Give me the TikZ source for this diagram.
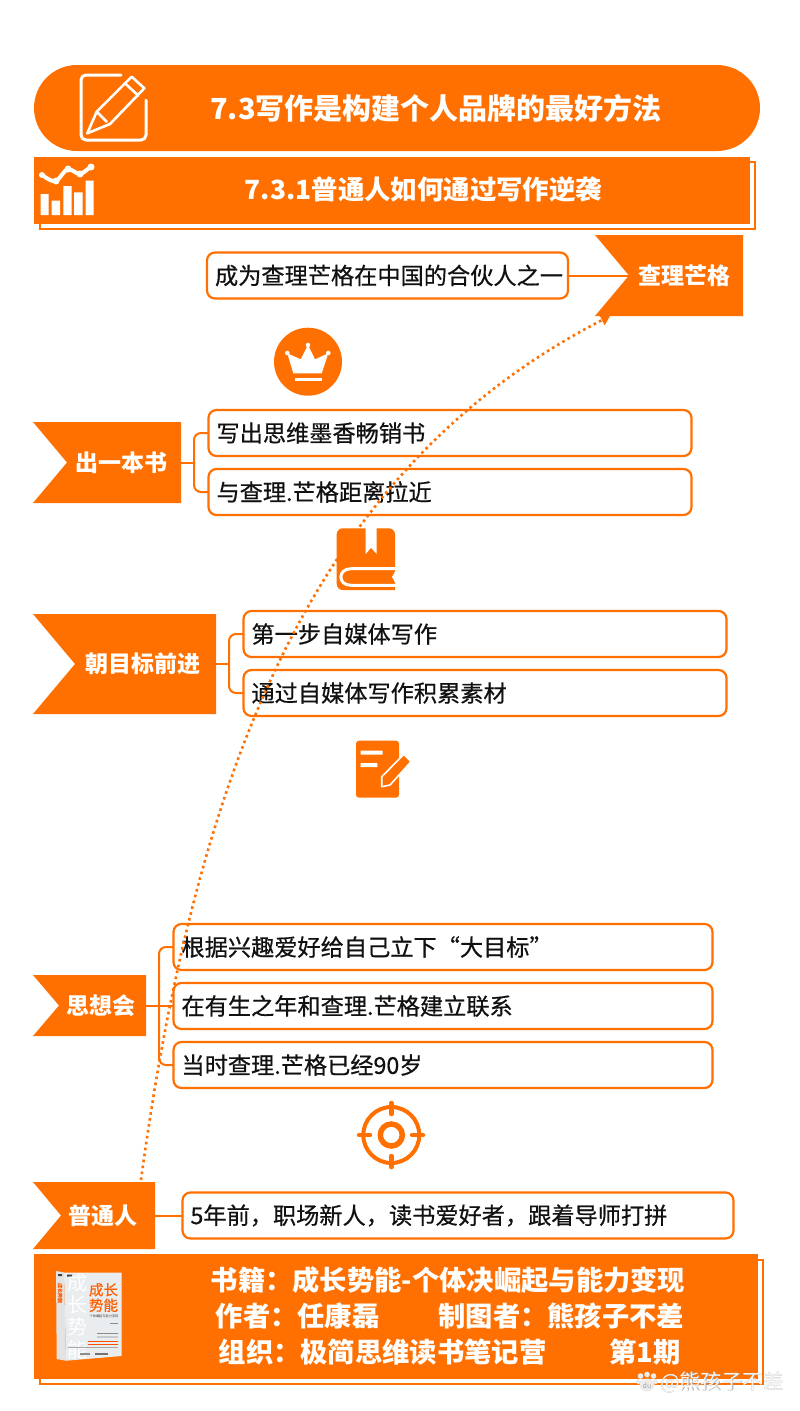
\documentclass[tikz,border=0pt]{standalone}
\usepackage{fontspec}
\setmainfont{Noto Sans CJK SC}
\newfontfamily\medf[FakeBold=0.6]{Noto Sans CJK SC}
\usetikzlibrary{arrows.meta}
\definecolor{org}{HTML}{FF7000}
\definecolor{ink}{HTML}{111111}
\definecolor{cvr}{HTML}{E9EDEF}
\newcommand{\fsz}[1]{\fontsize{#1}{#1}\selectfont}
\tikzset{
  bx/.style={draw=org,line width=2.2pt,fill=white,rounded corners=8pt,anchor=west,outer sep=0pt,minimum height=46pt,inner xsep=8pt,inner ysep=0pt,align=left,text=ink,font=\medf\fsz{23.2}},
  tagtext/.style={text=white,font=\bfseries\fsz{23},inner sep=0pt},
  tagfill/.style={fill=org},
  conn/.style={draw=org,line width=2pt,rounded corners=7pt},
  headtext/.style={text=white,font=\bfseries\fsz{26.4},inner sep=0pt},
  foottext/.style={text=white,font=\bfseries\fsz{27.3},inner sep=0pt,anchor=west},
  iconw/.style={draw=white,line join=round,line cap=round},
  dotline/.style={draw=org,line width=2.6pt,dash pattern=on 2.6pt off 3.4pt,-{Triangle[length=9pt,width=11pt,fill=org]}},
  frame/.style={draw=org,line width=1.6pt,fill=white},
}
\begin{document}
\begin{tikzpicture}[x=1pt,y=-1pt]
\useasboundingbox (0,0) rectangle (800,1411);
\fill[white] (0,0) rectangle (800,1411);

% title bar
\fill[org,rounded corners=43pt] (34,65) rectangle (760,151);
\node[headtext,font=\bfseries\fsz{29}] (title) at (436,108) {7.3写作是构建个人品牌的最好方法};
% pencil icon
\draw[iconw,line width=3pt,rounded corners=5pt] (121,75) -- (81,75) -- (81,140) -- (146,140) -- (146,100);
\draw[iconw,line width=2.6pt] (87.3,133.3) -- (96.7,111.7) -- (131.7,76.7) -- (144.3,88.3) -- (110,124) -- cycle;
\draw[iconw,line width=2.6pt] (96.7,111.7) -- (106.7,121.7) (125,83.3) -- (138.3,95.7);

% sub-heading
\draw[frame] (40,162) rectangle (755,229);
\fill[org] (34,157) rectangle (750,224);
\node[headtext] (sub) at (423.5,189) {7.3.1普通人如何通过写作逆袭};
\fill[white] (40.5,194) rectangle (48.5,215) (51.7,200.7) rectangle (60,215) (63.3,186) rectangle (71.7,215) (74,192.3) rectangle (82.7,215) (85.7,180.7) rectangle (93.7,215);
\draw[white,line width=4pt,line cap=round,line join=round] (42,175) .. controls (48,179) and (52,182) .. (56,181) .. controls (60,179) and (64,170) .. (68,169) .. controls (72,169) and (76,174) .. (80,174) .. controls (84,173) and (87,169) .. (91,167);
\fill[white] (42,175) circle (3pt) (56,181) circle (3.5pt) (68,169) circle (3.5pt) (80,174) circle (3.5pt) (91,167) circle (3.5pt);

% tag polygons
\fill[tagfill] (595,235) -- (743,235) -- (743,316) -- (595,316) -- (629,275.5) -- cycle;
\fill[tagfill] (33,422) -- (181,422) -- (181,503) -- (33,503) -- (67,462.5) -- cycle;
\fill[tagfill] (33,614) -- (216,614) -- (216,714) -- (33,714) -- (75,664) -- cycle;
\fill[tagfill] (33,975) -- (146,975) -- (146,1036) -- (33,1036) -- (59,1005.5) -- cycle;
\fill[tagfill] (33,1182) -- (155,1182) -- (155,1249) -- (33,1249) -- (61,1215.5) -- cycle;

\node[tagtext,minimum width=114pt,minimum height=81pt] (t0) at (686,275.5) {查理芒格\kern4pt};
\node[tagtext,minimum width=119pt,minimum height=81pt] (t1) at (121.5,462.5) {出一本书};
\node[tagtext,minimum width=147pt,minimum height=100pt] (t2) at (142.5,664) {朝目标前进};
\node[tagtext,minimum width=90pt,minimum height=61pt] (t3) at (101,1005.5) {思想会};
\node[tagtext,minimum width=104pt,minimum height=67pt] (t4) at (103,1215.5) {普通人};

% boxes
\node[bx,text width=345pt] (b0) at (207,275.5) {成为查理芒格在中国的合伙人之一};
\node[bx,text width=467pt] (c1) at (208.5,433) {写出思维墨香畅销书};
\node[bx,text width=467pt] (c2) at (208.5,492) {与查理.芒格距离拉近};
\node[bx,text width=467pt] (d1) at (243.5,634) {第一步自媒体写作};
\node[bx,text width=467pt] (d2) at (243.5,693) {通过自媒体写作积累素材};
\node[bx,text width=523pt] (e1) at (173.5,947) {根据兴趣爱好给自己立下“大目标”};
\node[bx,text width=523pt] (e2) at (173.5,1006) {在有生之年和查理.芒格建立联系};
\node[bx,text width=523pt] (e3) at (173.5,1065) {当时查理.芒格已经90岁};
\node[bx,text width=535pt] (f1) at (182.5,1215.5) {5年前，职场新人，读书爱好者，跟着导师打拼};

% connectors
\coordinate (brc) at (194,462.5);
\coordinate (brd) at (229,664);
\coordinate (bre) at (159,1006);
\draw[conn] (b0.east) -- (t0.west);
\draw[conn] (t1.east) -- (brc);
\draw[conn] (c1.west) -| (brc) |- (c2.west);
\draw[conn] (t2.east) -- (brd);
\draw[conn] (d1.west) -| (brd) |- (d2.west);
\draw[conn] (e2.west) -- (e2.west -| t3.east);
\draw[conn] (e1.west) -| (bre) |- (e3.west);
\draw[conn] (t4.east) -- (f1.west);

% crown icon
\fill[org] (308,361.7) circle (34pt);
\fill[white] (293.3,373.3) -- (321.7,373.3) -- (328.3,353.3) -- (315,359.3) -- (308,345) -- (300.7,359.3) -- (287.3,353.3) -- cycle;
\fill[white] (287.3,353) circle (2.3pt) (308,345) circle (2.3pt) (328.3,353) circle (2.3pt);
\fill[white] (295,377.7) rectangle (321.7,381.2);

% book icon
\fill[org,rounded corners=6pt] (395,590) -- (336.7,590) -- (336.7,528.3) -- (395,528.3) -- (395,570) -- (395,590);
\fill[org] (385,590) rectangle (395,570);
\draw[white,line width=3pt] (396,568.7) -- (351,568.7) .. controls (337.5,568.7) and (337.5,585.3) .. (351,585.3) -- (396,585.3);
\fill[white] (396,570) -- (392,577) -- (396,584) -- cycle;
\fill[white] (365.7,527.5) -- (376.7,527.5) -- (376.7,554) -- (371,547.7) -- (365.7,554) -- cycle;

% note icon
\fill[org,rounded corners=3pt] (356,740.7) rectangle (399,797.7);
\fill[white] (360.7,750.7) rectangle (382.7,754.7) (360.7,763) rectangle (377.3,767);
\draw[white,fill=org,line width=1.6pt,line join=round] (381.7,786.7) -- (381.7,776.7) -- (404,754.3) -- (411,761.7) -- (390,785) -- cycle;

% target icon
\draw[org,line width=4pt] (391.3,1135) circle (28pt);
\draw[org,line width=5.5pt] (391.3,1135) circle (11pt);
\draw[org,line width=4.5pt,line cap=round] (391.3,1103) -- (391.3,1114) (391.3,1156) -- (391.3,1167) (359,1135) -- (370,1135) (412,1135) -- (423,1135);

% footer
\draw[frame] (40,1260) rectangle (763,1384);
\fill[org] (34,1254) rectangle (758,1379);
\node[foottext] (fa) at (210.5,1280) {书籍：成长势能-个体决崛起与能力变现};
\node[foottext] (fb) at (215.5,1316) {作者：任康磊\hspace{59pt}制图者：熊孩子不差};
\node[foottext] (fc) at (218.5,1352) {组织：极简思维读书笔记营\hspace{63pt}第1期};

% book cover
\fill[cvr] (64,1272.5) -- (121.7,1272.7) -- (121.7,1356) -- (66,1360.7) -- cycle;
\fill[white!78!gray] (56,1271) -- (64,1272.5) -- (66,1360.7) -- (56.7,1359) -- cycle;
\fill[black!75] (58,1274) rectangle (62,1276) (67,1274.5) rectangle (72,1276.5);
\node[inner sep=0pt,text=white,font=\fsz{20}] (cg) at (77,1316) {\shortstack{成\\[1pt]长\\[1pt]势\\[1pt]能}};
\node[inner sep=0pt,text=org!85!red,font=\medf\fsz{14.5},align=right] (ct) at (103.5,1297.5) {成长\\[1pt]势能};
\node[inner sep=0pt,text=black!75,font=\fsz{3.2}] (cs) at (104,1316.7) {个体崛起与能力变现};
\node[inner sep=0pt,text=org!85!red,font=\medf\fsz{5},rotate=-90] (cv) at (60,1293) {成长势能};
\fill[black!45] (110,1322.5) rectangle (118,1323.5);
\fill[black!45] (97,1333) rectangle (118,1333.8) (97,1336.5) rectangle (118,1337.3);
\fill[org!70!red] (88,1341) rectangle (118,1341.8) (88,1344) rectangle (118,1344.8);
\fill[black!35] (68,1347) rectangle (118,1347.8);
\fill[black!45] (80,1353) rectangle (90,1355);
\fill[black!55] (95,1353) rectangle (108,1355);

% dotted curve
\coordinate (cs0) at (141,1180);
\coordinate (cs1) at (610,316);
\draw[dotline] (cs0) .. controls (201,736) and (330,460) .. (cs1);

% watermark
\node[inner sep=0pt,anchor=west,text=gray!70,font=\fsz{20.8}] (wmb) at (660.6,1382.6) {@熊孩子不差};
\node[inner sep=0pt,anchor=west,text=white!92!gray,font=\fsz{20.8}] (wm) at (660,1382) {@熊孩子不差};
\fill[white!85!gray] (640.5,1376) circle (2.8pt) (647,1374.5) circle (2.8pt) (653.5,1376) circle (2.8pt) (638.5,1381.5) circle (2.5pt) (655.5,1381.5) circle (2.5pt);
\fill[white!85!gray] (647,1385) ellipse (7.5pt and 6.5pt);
\node[inner sep=0pt,text=gray!70,font=\fsz{7}] (wd) at (647,1386) {du};
\end{tikzpicture}
\end{document}
